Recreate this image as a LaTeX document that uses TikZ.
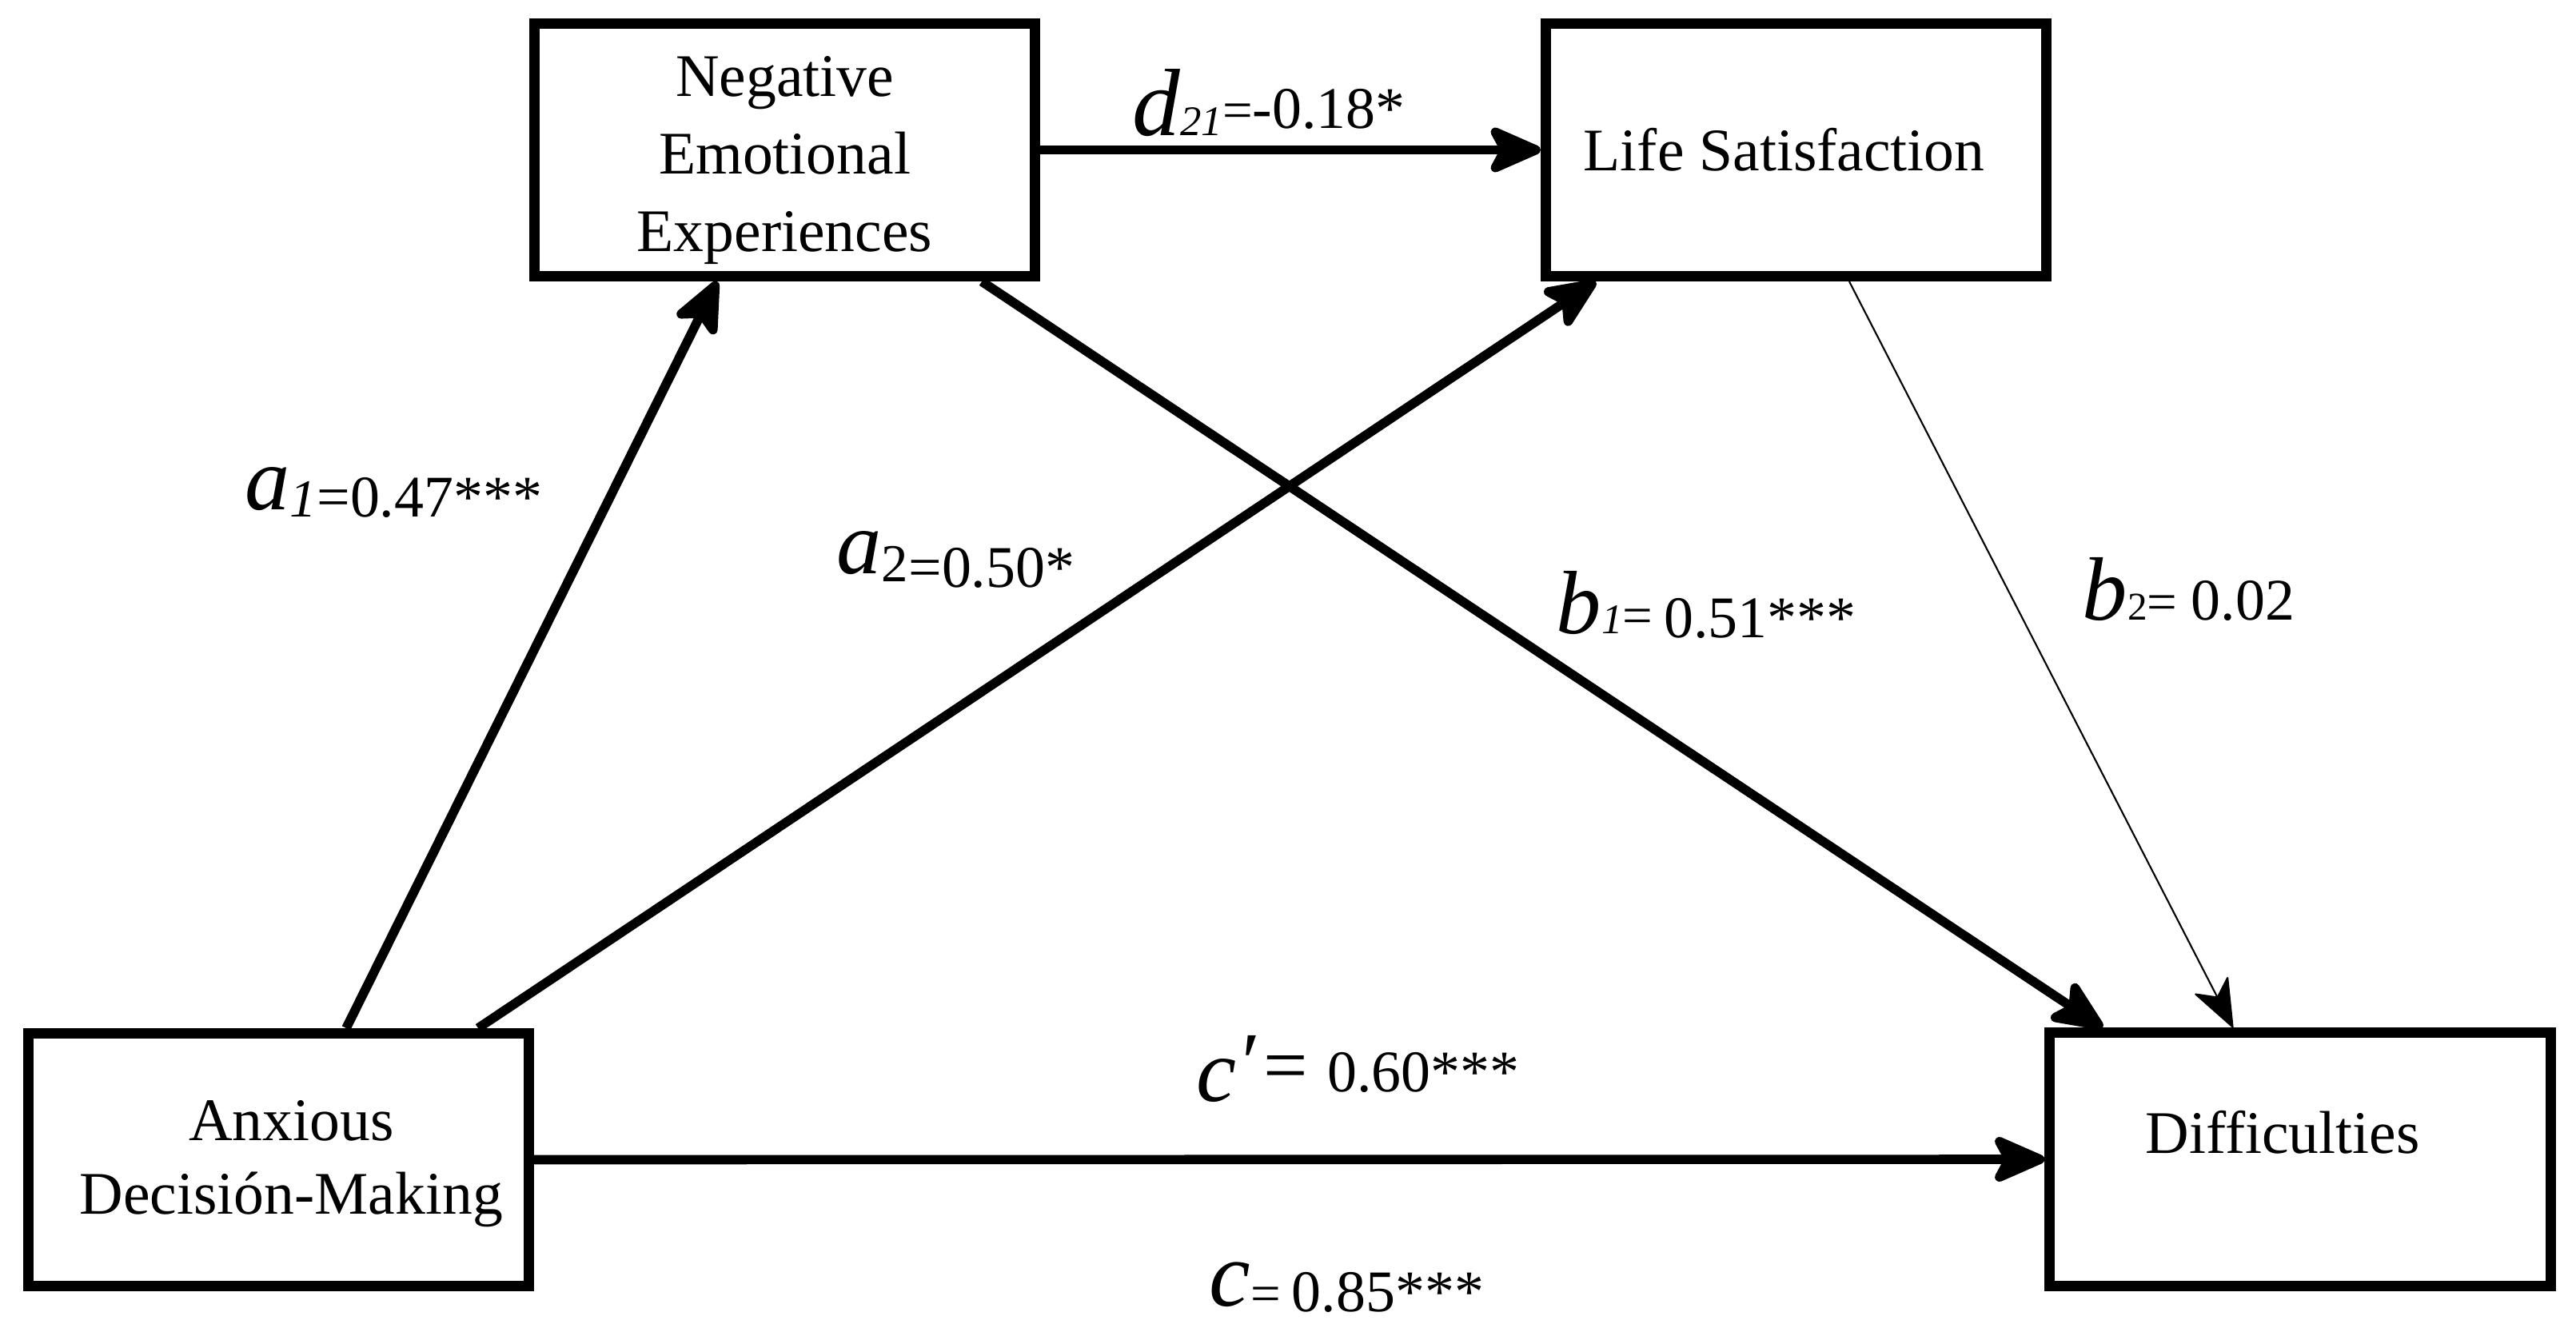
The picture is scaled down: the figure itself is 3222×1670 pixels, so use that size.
\documentclass[tikz,border=0pt]{standalone}
\usepackage{fontspec}
\setmainfont{Liberation Serif}
\usetikzlibrary{arrows.meta}
\newcommand\BigI{\fontsize{32}{32}\selectfont\itshape}
\newcommand\Num{\fontsize{21}{21}\selectfont\upshape}
\newcommand\Eq{\fontsize{19}{19}\selectfont\upshape}
\tikzset{
  box/.style={draw, line width=3.7pt, minimum width=6.26cm, minimum height=3.16cm,
              inner sep=0pt, align=center, font=\fontsize{21.5}{27.5}\selectfont},
  conn/.style={line width=3.3pt, -{Stealth[length=22pt,width=19pt,inset=5pt,round]}},
  thinconn/.style={line width=0.6pt, -{Stealth[length=18pt,width=14pt,inset=5pt,round]}},
  lab/.style={inner sep=0pt, anchor=base west},
}
\begin{document}
\begin{tikzpicture}[x=0.01cm,y=-0.01cm]
\useasboundingbox (0,0) rectangle (3222,1670);
% boxes
\node[box] (nee) at (981.5,187.5) {\raisebox{-3pt}[\height][\depth]{\begin{tabular}{@{}c@{}}Negative\\Emotional\\Experiences\end{tabular}}};
\node[box] (ls) at (2246.5,187.5) {\hspace*{-8.5pt}Life Satisfaction};
\node[box, font=\fontsize{21.5}{26}\selectfont] (adm) at (348.5,1450.5) {\raisebox{-1pt}[\height][\depth]{\begin{tabular}{@{\hspace{9pt}}c@{}}Anxious\\Decisión-Making\end{tabular}}};
\node[box, text height=0.5cm, text depth=0.66cm] (diff) at (2877,1450) {\hspace*{-12.4pt}Difficulties};
% connectors
\draw[conn] (adm.north -| 433,0) -- (nee.south -| 897,0);
\draw[conn] (adm.north -| 598,0) -- (ls.south -| 1996,0);
\draw[conn] (nee.east) -- (ls.west);
\draw[conn] (nee.south -| 1228,0) -- (diff.north -| 2630,0);
\draw[thinconn] (ls.south -| 2313,0) -- (diff.north -| 2793,0);
\draw[conn] (adm.east) -- (diff.west);
% labels
\node[lab] (la1) at (306,637) {{\BigI a}\raisebox{-2.8pt}{{\fontsize{19}{19}\selectfont\itshape 1}\Num=0.47***}};
\node[lab] (la2) at (1046,717) {{\BigI a}\raisebox{-3pt}{\fontsize{19}{19}\selectfont 2}\raisebox{-5pt}{\Num=0.50*}};
\node[lab] (ld21) at (1416,170) {{\fontsize{34}{34}\selectfont\itshape d}{\fontsize{15}{15}\selectfont\itshape 21}\raisebox{2.8pt}{\Eq=\Num-0.18*}};
\node[lab] (lb1) at (1946,792) {{\BigI b}{\fontsize{15}{15}\selectfont\itshape 1}{\Eq=}\hspace{4pt}\raisebox{-1.7pt}{\Num 0.51***}};
\node[lab] (lb2) at (2604,775) {{\BigI b}{\fontsize{14}{14}\selectfont 2}{\Eq=}\hspace{5pt}{\Num 0.02}};
\node[lab] (lcp) at (1496,1377) {{\BigI c}\hspace{2pt}\raisebox{3.7pt}{\fontsize{30}{30}\selectfont ′}\hspace{1pt}\raisebox{3.4pt}{{\fontsize{28}{28}\selectfont=}\hspace{7pt}\Num 0.60***}};
\node[lab] (lc) at (1512,1633) {{\fontsize{33}{33}\selectfont\itshape c}\raisebox{-2pt}{{\Eq=}\hspace{4pt}\Num 0.85***}};
\end{tikzpicture}
\end{document}
